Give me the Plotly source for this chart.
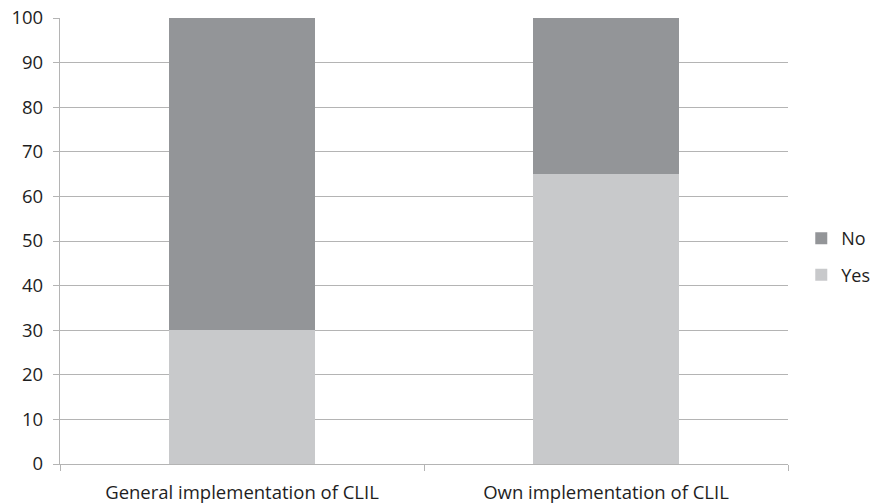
import plotly.graph_objects as go

categories = ["General implementation of CLIL", "Own implementation of CLIL"]
yes_values = [30, 65]
no_values = [70, 35]
y_ticks = list(range(0, 101, 10))

fig = go.Figure()
fig.add_trace(go.Bar(x=categories, y=yes_values, name="Yes",
                     marker=dict(color="#c8c9cb", line=dict(width=0)),
                     legendgroup="yes", legendrank=2))
fig.add_trace(go.Bar(x=categories, y=no_values, name="No",
                     marker=dict(color="#939598", line=dict(width=0)),
                     legendgroup="no", legendrank=1))

axis_gray = "#b4b4b4"
fig.update_layout(
    barmode="stack",
    bargap=0.6,
    width=870, height=503,
    margin=dict(l=60, r=82, t=18, b=39, autoexpand=False),
    plot_bgcolor="white", paper_bgcolor="white",
    font=dict(family="Open Sans, sans-serif", size=18.5, color="#1e1e1e"),
    legend=dict(xref="container", yref="container", x=0.921, y=0.49,
                xanchor="left", yanchor="middle",
                traceorder="grouped", tracegroupgap=10,
                font=dict(size=18), itemwidth=30),
    showlegend=True,
)
fig.update_yaxes(range=[0, 100], tickvals=y_ticks, showgrid=True,
                 gridcolor=axis_gray, gridwidth=1.3,
                 showline=True, linecolor=axis_gray, linewidth=1.3,
                 ticks="outside", ticklen=6, tickcolor=axis_gray, tickwidth=1.3,
                 ticklabelstandoff=6, zeroline=False)
fig.update_xaxes(showline=True, linecolor=axis_gray, linewidth=1.3,
                 ticks="outside", ticklen=6, tickcolor=axis_gray, tickwidth=1.3,
                 tickson="boundaries", ticklabelstandoff=12, showgrid=False)

fig.write_html("out.html")
